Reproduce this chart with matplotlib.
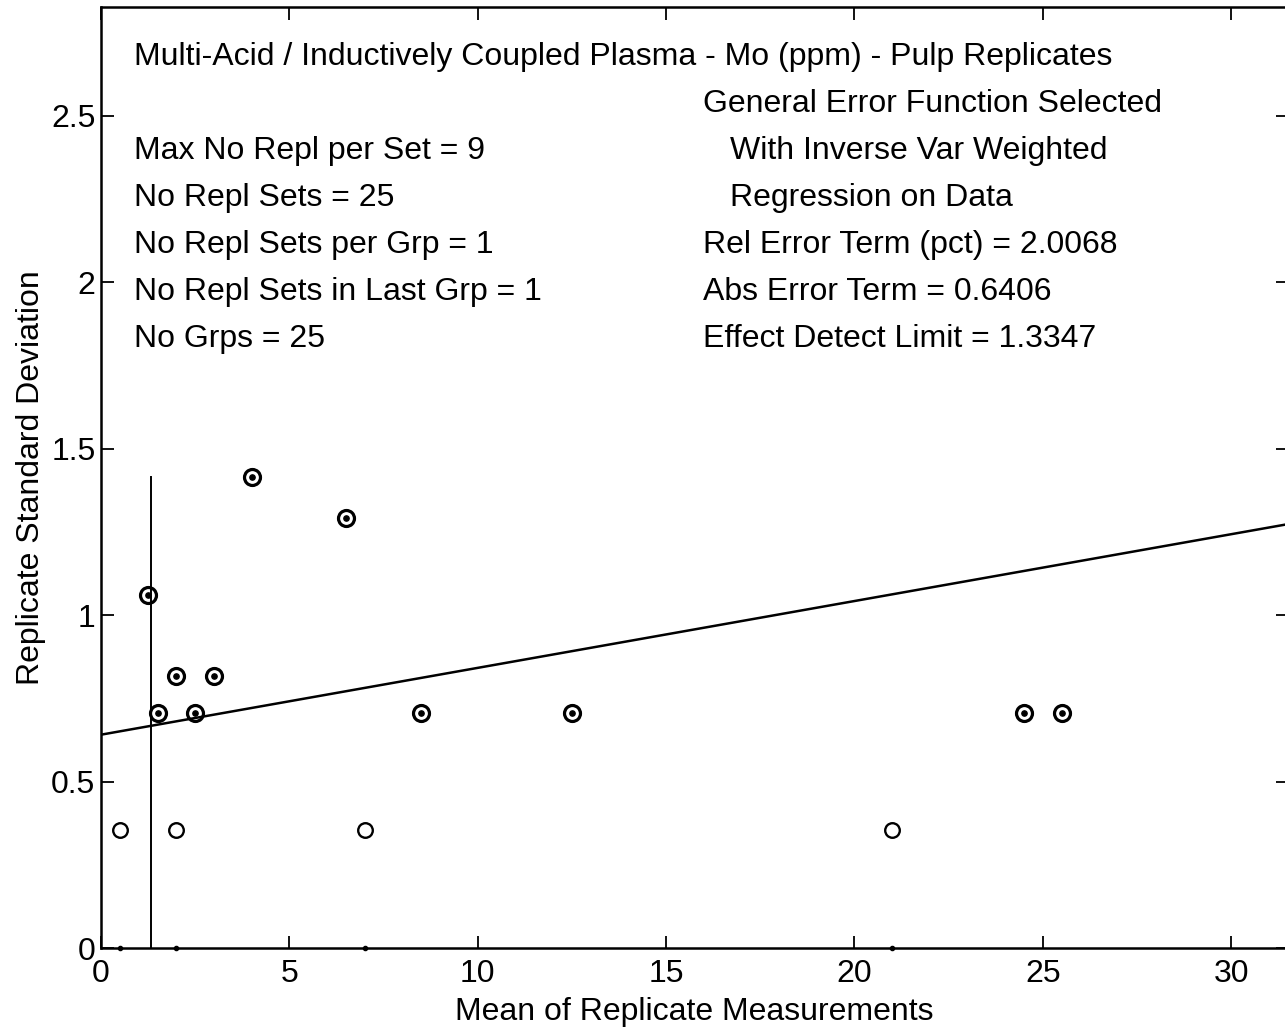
import matplotlib
matplotlib.use("Agg")
import matplotlib.pyplot as plt
import numpy as np

plt.rcParams['font.family'] = ['Liberation Sans', 'DejaVu Sans']

# Data
set_means = [1.25, 1.5, 2.0, 2.5, 3.0, 4.0, 6.5, 8.5, 12.5, 24.5, 25.5]
set_sds = [1.06, 0.707, 0.816, 0.707, 0.816, 1.414, 1.29, 0.707, 0.707, 0.707, 0.707]
low_means = [0.5, 2.0, 7.0, 21.0]
low_sds = [0.354, 0.354, 0.354, 0.354]
zero_means = [0.5, 2.0, 7.0, 21.0]
zero_sds = [0.0, 0.0, 0.0, 0.0]

rel_error_pct = 2.0068
abs_error = 0.6406
detect_limit = 1.3347

x_ticks = [0, 5, 10, 15, 20, 25, 30]
y_ticks = [0, 0.5, 1, 1.5, 2, 2.5]
y_tick_labels = ['0', '0.5', '1', '1.5', '2', '2.5']

W, H = 1285, 1032
fig = plt.figure(figsize=(W / 100, H / 100), dpi=100)
ax = fig.add_axes([101 / W, (H - 948) / H, (W - 101) / W + 0.002, (948 - 7) / H])
ax.set_xlim(0, 31.5)
ax.set_ylim(0, 2.826)

# regression line
xl = np.array([0, 31.5])
ax.plot(xl, abs_error + rel_error_pct / 100 * xl, color='black', lw=1.8, zorder=2)
# detection limit line
ax.plot([detect_limit, detect_limit], [0, max(set_sds)], color='black', lw=1.4, zorder=2)

ax.plot(set_means, set_sds, 'o', ms=11.5, mfc='none', mec='black', mew=2.3, zorder=3, clip_on=False)
ax.plot(set_means, set_sds, 'o', ms=3.8, color='black', zorder=3)
ax.plot(low_means, low_sds, 'o', ms=10.5, mfc='none', mec='black', mew=1.7, zorder=3)
ax.plot(zero_means, zero_sds, 'o', ms=3, color='black', zorder=3, clip_on=False)

fs = 23
ax.set_xticks(x_ticks)
ax.set_yticks(y_ticks)
ax.set_yticklabels(y_tick_labels)
ax.tick_params(direction='in', length=9, width=1.3, labelsize=fs, top=True, right=True)
ax.tick_params(axis='x', pad=8)
ax.tick_params(axis='y', pad=4)
for s in ax.spines.values():
    s.set_linewidth(1.8)

ax.set_xlabel('Mean of Replicate Measurements', fontsize=fs, labelpad=6)
ax.set_ylabel('Replicate Standard Deviation', fontsize=fs, labelpad=4)

def ftext(px, py, s):
    fig.text(px / W, 1 - py / H, s, fontsize=fs, va='baseline', ha='left')

ftext(134, 65, 'Multi-Acid / Inductively Coupled Plasma - Mo (ppm) - Pulp Replicates')
left_lines = ['Max No Repl per Set = 9', 'No Repl Sets = 25', 'No Repl Sets per Grp = 1',
              'No Repl Sets in Last Grp = 1', 'No Grps = 25']
for i, s in enumerate(left_lines):
    ftext(134, 159 + 47 * i, s)
right_lines = [(703, 'General Error Function Selected'), (730, 'With Inverse Var Weighted'),
               (730, 'Regression on Data'), (703, 'Rel Error Term (pct) = 2.0068'),
               (703, 'Abs Error Term = 0.6406'), (703, 'Effect Detect Limit = 1.3347')]
for i, (px, s) in enumerate(right_lines):
    ftext(px, 112 + 47 * i, s)

fig.savefig('out.png', dpi=100)
